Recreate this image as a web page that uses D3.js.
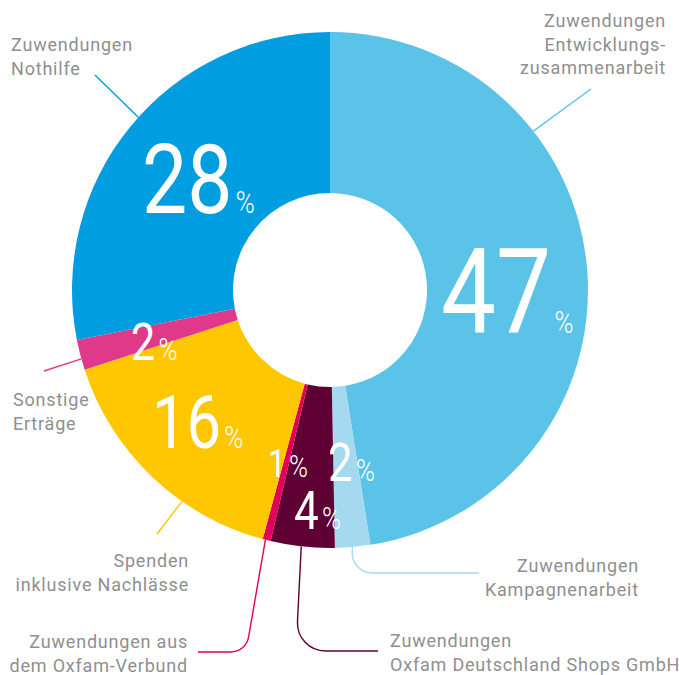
<!DOCTYPE html>
<html>
<head>
<meta charset="utf-8">
<script src="https://cdn.jsdelivr.net/npm/d3@7"></script>
<style>
  body { margin: 0; background: #fff; }
  .label { font-family: Roboto, "DejaVu Sans", sans-serif; font-size: 18px; fill: #8f8f8f; letter-spacing: 0.8px; }
  .num { font-family: Roboto, sans-serif; font-weight: 400; fill: #fff; }
  .pct { font-weight: 300; }
</style>
</head>
<body>
<svg id="chart" width="679" height="675"></svg>
<script>
// shares (clockwise from 12 o'clock)
const categories = [
  "Zuwendungen Entwicklungszusammenarbeit",
  "Zuwendungen Kampagnenarbeit",
  "Zuwendungen Oxfam Deutschland Shops GmbH",
  "Zuwendungen aus dem Oxfam-Verbund",
  "Spenden inklusive Nachlässe",
  "Sonstige Erträge",
  "Zuwendungen Nothilfe"
];
const shares = [47.5, 2.2, 4.0, 0.5, 15.8, 1.9, 28.1];
const shareLabels = ["47", "2", "4", "1", "16", "2", "28"];
const colors = ["#5bc3e7", "#a5d9ef", "#5f0035", "#e2005a", "#ffc700", "#e0398a", "#009ee0"];

// label text lines per slice
const labelLines = [
  ["Zuwendungen", "Entwicklungs-", "zusammenarbeit"],
  ["Zuwendungen", "Kampagnenarbeit"],
  ["Zuwendungen", "Oxfam Deutschland Shops GmbH"],
  ["Zuwendungen aus", "dem Oxfam-Verbund"],
  ["Spenden", "inklusive Nachlässe"],
  ["Sonstige", "Erträge"],
  ["Zuwendungen", "Nothilfe"]
];

const cx = 330, cy = 290;
const outerR = 258, innerR = 97;

const svg = d3.select("#chart");
const g = svg.append("g").attr("transform", `translate(${cx},${cy})`);

const pie = d3.pie().sort(null).value(d => d);
const arcs = pie(shares);
const arc = d3.arc().innerRadius(innerR).outerRadius(outerR);

g.selectAll("path.slice")
  .data(arcs)
  .join("path")
  .attr("class", "slice")
  .attr("d", arc)
  .attr("fill", (d, i) => colors[i]);

//------------ leader lines + labels -------------------------------------//
// anchor angle on outer rim (deg), text block position, leader route
const labelLayout = [
  { angle: 52, x: 666, y: 27, anchor: "end", route: [[591, 89]] },
  { angle: 175, x: 639, y: 572, anchor: "end", route: [[351, 573], [479, 573]], r: 20 },
  { angle: 186.4, x: 390, y: 647, anchor: "start", route: [[296, 651], [378, 651]], r: 28 },
  { angle: 194.5, x: 188, y: 648, anchor: "end", route: [[246, 652], [198, 652]], r: 18 },
  { angle: 215, x: 189, y: 567, anchor: "end", route: [[157, 534]] },
  { angle: 254.5, x: 13, y: 406, anchor: "start", route: [[44, 371]] },
  { angle: 312, x: 11, y: 51, anchor: "start", route: [[95, 75]] }
];

function rimPoint(deg) {
  const a = deg * Math.PI / 180;
  return [cx + outerR * Math.sin(a), cy - outerR * Math.cos(a)];
}

const leaders = svg.append("g");
labelLayout.forEach((L, i) => {
  const p = d3.path();
  const [x0, y0] = rimPoint(L.angle);
  p.moveTo(x0, y0);
  if (L.route.length === 1) {
    p.lineTo(L.route[0][0], L.route[0][1]);
  } else {
    const [kx, ky] = L.route[0];
    const [ex, ey] = L.route[1];
    p.arcTo(kx, ky, ex, ey, L.r);
    p.lineTo(ex, ey);
  }
  leaders.append("path")
    .attr("d", p.toString())
    .attr("fill", "none")
    .attr("stroke", colors[i])
    .attr("stroke-width", 1.4);

  const t = svg.append("text")
    .attr("class", "label")
    .attr("text-anchor", L.anchor);
  labelLines[i].forEach((line, j) => {
    t.append("tspan")
      .attr("x", L.x)
      .attr("y", L.y + j * 23.5)
      .text(line);
  });
});

//------------ percentage numbers -----------------------------------------//
const numLayout = [
  { x: 441, y: 333, size: 118 },
  { x: 328, y: 481, size: 53 },
  { x: 294, y: 529, size: 53 },
  { x: 268, y: 477, size: 38 },
  { x: 152, y: 448, size: 74 },
  { x: 131, y: 360, size: 52 },
  { x: 142, y: 213, size: 97 }
];

numLayout.forEach((N, i) => {
  const t = svg.append("text")
    .attr("class", "num")
    .attr("transform", `translate(${N.x},${N.y}) scale(0.83,1)`)
    .attr("font-size", N.size);
  t.append("tspan").text(shareLabels[i]);
  t.append("tspan").attr("class", "pct").attr("font-size", 31).attr("dx", 4).text("%");
});
</script>
</body>
</html>
